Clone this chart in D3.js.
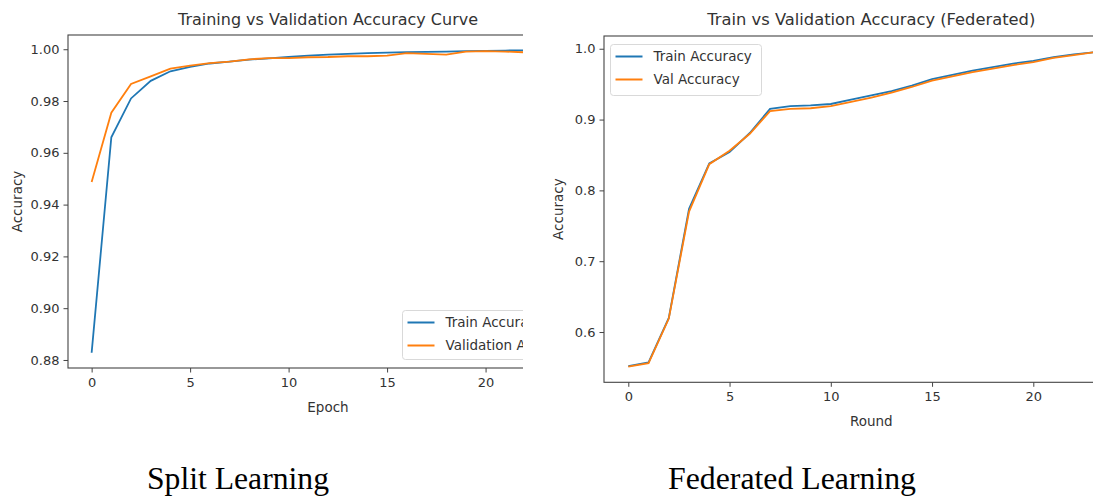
<!DOCTYPE html>
<html lang="en">
<head>
  <meta charset="utf-8" />
  <title>Split vs Federated Learning Accuracy</title>
  <script src="https://cdn.jsdelivr.net/npm/d3@7/dist/d3.min.js"></script>
  <style>
    body {
      margin: 0;
      background: #fff;
    }
    svg text {
      font-family: "DejaVu Sans", sans-serif;
      fill: #333;
    }
    .caption {
      font-family: "Liberation Serif", "Times New Roman", serif !important;
      fill: #000 !important;
    }
  </style>
</head>
<body>
  <div id="chart"></div>

  <script type="text/javascript">

    // ---- data ----
    const epochs = [0, 1, 2, 3, 4, 5, 6, 7, 8, 9, 10, 11, 12, 13, 14, 15, 16, 17, 18, 19, 20, 21, 22, 23, 24];
    const splitTrain = [0.8828, 0.9660, 0.9810, 0.9878, 0.9915, 0.9932, 0.9945, 0.9952, 0.9960, 0.9965, 0.9970, 0.9975,
                        0.9979, 0.9982, 0.9985, 0.9987, 0.9989, 0.9990, 0.9991, 0.9993, 0.9994, 0.9995, 0.9996, 0.9996, 0.9997];
    const splitVal = [0.9487, 0.9755, 0.9866, 0.9895, 0.9925, 0.9937, 0.9946, 0.9952, 0.9961, 0.9966, 0.9966, 0.9969,
                      0.9970, 0.9973, 0.9973, 0.9975, 0.9985, 0.9982, 0.9979, 0.9991, 0.9993, 0.9991, 0.9988, 0.9988, 0.9988];

    const rounds = [0, 1, 2, 3, 4, 5, 6, 7, 8, 9, 10, 11, 12, 13, 14, 15, 16, 17, 18, 19, 20, 21, 22, 23, 24];
    const fedTrain = [0.552, 0.557, 0.620, 0.774, 0.838, 0.854, 0.881, 0.915, 0.919, 0.920, 0.922, 0.928, 0.934, 0.940,
                      0.948, 0.957, 0.963, 0.969, 0.974, 0.979, 0.983, 0.988, 0.992, 0.995, 0.997];
    const fedVal = [0.551, 0.556, 0.619, 0.770, 0.837, 0.856, 0.880, 0.912, 0.915, 0.916, 0.919, 0.925, 0.931, 0.938,
                    0.946, 0.955, 0.961, 0.967, 0.972, 0.977, 0.981, 0.987, 0.991, 0.995, 0.997];

    const xTicks = [0, 5, 10, 15, 20];
    const splitYTicks = [0.88, 0.90, 0.92, 0.94, 0.96, 0.98, 1.00];
    const fedYTicks = [0.6, 0.7, 0.8, 0.9, 1.0];

    const blue = "#1f77b4";
    const orange = "#ff7f0e";

    const w = 1093;
    const h = 499;

    const svg = d3.select("#chart")
                  .append("svg")
                  .attr("width", w)
                  .attr("height", h);

    // each panel: axes box in pixels + data domain (matplotlib style 5% margins)
    const panels = [
      {
        id: "split",
        left: 68, right: 588, top: 35, bottom: 368, clipRight: 523,
        xDomain: [-1.2, 25.2], yDomain: [0.8769, 1.0055],
        xs: epochs, train: splitTrain, val: splitVal,
        yTicks: splitYTicks, yFmt: d3.format(".2f"),
        title: "Training vs Validation Accuracy Curve", titleLen: 300, xLabel: "Epoch",
        yLabelX: 17, xLabelY: 412, tickLabelY: 390,
        legend: {x: 402.5, y: 310.5, w: 160, h: 49, names: ["Train Accuracy", "Validation Accuracy"]},
        caption: "Split Learning", captionX: 238, captionLen: 182
      },
      {
        id: "fed",
        left: 604, right: 1138.6, top: 36, bottom: 382.3, clipRight: 1093,
        xDomain: [-1.2, 25.2], yDomain: [0.529, 1.018],
        xs: rounds, train: fedTrain, val: fedVal,
        yTicks: fedYTicks, yFmt: d3.format(".1f"),
        title: "Train vs Validation Accuracy (Federated)", titleLen: 328, xLabel: "Round",
        yLabelX: 558, xLabelY: 426, tickLabelY: 404,
        legend: {x: 610.5, y: 44.5, w: 151, h: 51, names: ["Train Accuracy", "Val Accuracy"]},
        caption: "Federated Learning", captionX: 792, captionLen: 248
      }
    ];

    panels.forEach(p => {
      const x = d3.scaleLinear().domain(p.xDomain).range([p.left, p.right]);
      const y = d3.scaleLinear().domain(p.yDomain).range([p.bottom, p.top]);

      // the picture is cut off on the right, so clip everything past clipRight
      svg.append("clipPath")
         .attr("id", "clip-" + p.id)
         .append("rect")
         .attr("x", 0)
         .attr("y", 0)
         .attr("width", p.clipRight)
         .attr("height", h);

      const g = svg.append("g").attr("clip-path", "url(#clip-" + p.id + ")");

      const line = d3.line()
                     .x((d, i) => x(p.xs[i]))
                     .y(d => y(d));

      const plot = g.append("g");
      plot.append("path")
          .datum(p.train)
          .attr("fill", "none")
          .attr("stroke", blue)
          .attr("stroke-width", 1.8)
          .attr("d", line);
      plot.append("path")
          .datum(p.val)
          .attr("fill", "none")
          .attr("stroke", orange)
          .attr("stroke-width", 1.8)
          .attr("d", line);

      // spines
      g.append("rect")
       .attr("x", p.left)
       .attr("y", p.top)
       .attr("width", p.right - p.left)
       .attr("height", p.bottom - p.top)
       .attr("fill", "none")
       .attr("stroke", "#444")
       .attr("stroke-width", 1.1);

      // axes
      const xAxis = d3.axisBottom(x).tickValues(xTicks).tickSize(4.5).tickPadding(5);
      const xg = g.append("g")
                  .attr("transform", "translate(0," + p.bottom + ")")
                  .call(xAxis);
      const yAxis = d3.axisLeft(y).tickValues(p.yTicks).tickFormat(p.yFmt).tickSize(4.5).tickPadding(4);
      const yg = g.append("g")
                  .attr("transform", "translate(" + p.left + ",0)")
                  .call(yAxis);
      [xg, yg].forEach(a => {
        a.select(".domain").remove();
        a.selectAll(".tick line").attr("stroke", "#444").attr("stroke-width", 1);
        a.selectAll(".tick text")
         .attr("fill", "#333")
         .style("font-size", "13px")
         .style("font-family", "DejaVu Sans, sans-serif");
      });

      // legend
      const L = p.legend;
      const lg = g.append("g").attr("transform", "translate(" + L.x + "," + L.y + ")");
      lg.append("rect")
        .attr("width", L.w)
        .attr("height", L.h)
        .attr("rx", 3)
        .attr("fill", "#fff")
        .attr("fill-opacity", 0.8)
        .attr("stroke", "#d9d9d9")
        .attr("stroke-width", 1);
      lg.selectAll("line.item")
        .data(L.names)
        .enter()
        .append("line")
        .attr("class", "item")
        .attr("x1", 5)
        .attr("x2", 32)
        .attr("y1", (d, i) => 12 + i * 23)
        .attr("y2", (d, i) => 12 + i * 23)
        .attr("stroke", (d, i) => i === 0 ? blue : orange)
        .attr("stroke-width", 2);
      lg.selectAll("text.item")
        .data(L.names)
        .enter()
        .append("text")
        .attr("class", "item")
        .attr("x", 43)
        .attr("y", (d, i) => 12 + i * 23)
        .attr("dy", "0.35em")
        .style("font-size", "13.5px")
        .text(d => d);

      // titles and labels
      const cx = (p.left + p.right) / 2;
      svg.append("text")
         .attr("x", cx)
         .attr("y", 25)
         .attr("text-anchor", "middle")
         .attr("textLength", p.titleLen)
         .attr("lengthAdjust", "spacingAndGlyphs")
         .style("font-size", "15.5px")
         .text(p.title);

      svg.append("text")
         .attr("x", cx)
         .attr("y", p.xLabelY)
         .attr("text-anchor", "middle")
         .style("font-size", "13.5px")
         .text(p.xLabel);

      svg.append("text")
         .attr("transform", "translate(" + p.yLabelX + "," + ((p.top + p.bottom) / 2) + ") rotate(-90)")
         .attr("text-anchor", "middle")
         .attr("dy", "0.35em")
         .style("font-size", "13.5px")
         .text("Accuracy");

      svg.append("text")
         .attr("class", "caption")
         .attr("x", p.captionX)
         .attr("y", 489)
         .attr("text-anchor", "middle")
         .attr("textLength", p.captionLen)
         .attr("lengthAdjust", "spacingAndGlyphs")
         .style("font-size", "32px")
         .text(p.caption);
    });

  </script>
</body>
</html>
